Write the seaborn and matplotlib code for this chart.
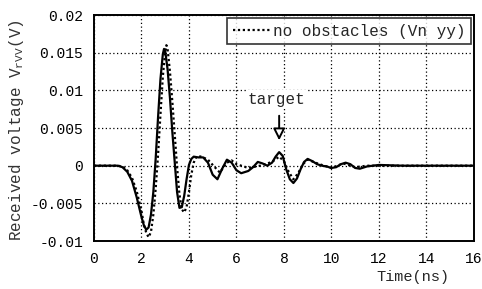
import matplotlib
matplotlib.use("Agg")
import matplotlib.pyplot as plt
from matplotlib.ticker import MultipleLocator
import seaborn as sns
import pandas as pd

# received waveform with target (solid)
t_target = [0, 0.5, 1.0, 1.2, 1.4, 1.6, 1.8, 2.0, 2.1, 2.2, 2.3, 2.4, 2.5, 2.6, 2.7, 2.8,
            2.9, 2.95, 3.0, 3.1, 3.2, 3.3, 3.4, 3.5, 3.6, 3.7, 3.8, 3.9, 4.0, 4.1, 4.2,
            4.4, 4.6, 4.8, 5.0, 5.2, 5.4, 5.6, 5.8, 6.0, 6.2, 6.5, 6.7, 6.9, 7.1, 7.3,
            7.5, 7.65, 7.8, 7.95, 8.1, 8.25, 8.4, 8.55, 8.7, 8.85, 9.0, 9.2, 9.4, 9.6,
            9.8, 10.0, 10.2, 10.4, 10.6, 10.8, 11.0, 11.2, 11.5, 12.0, 13.0, 14.0, 15.0, 16.0]
v_target = [0, 0, 0, -0.0002, -0.0008, -0.002, -0.0042, -0.0068, -0.0079, -0.0085, -0.0082,
            -0.0065, -0.0035, 0.001, 0.0065, 0.0115, 0.0148, 0.0155, 0.0152, 0.0128, 0.009,
            0.0045, 0.0005, -0.0035, -0.0056, -0.0055, -0.004, -0.0018, 0.0001, 0.0009,
            0.0012, 0.0011, 0.0011, 0.0004, -0.0012, -0.0018, -0.0004, 0.0008, 0.0004,
            -0.0006, -0.001, -0.0007, -0.0002, 0.0005, 0.0003, 0.0, 0.0004, 0.0012, 0.0018,
            0.0013, -0.0005, -0.0018, -0.0023, -0.0017, -0.0005, 0.0005, 0.0009, 0.0006,
            0.0002, 0.0, -0.0001, -0.0003, -0.0002, 0.0002, 0.0004, 0.0002, -0.0003,
            -0.0004, -0.0001, 0.0001, 0.0, 0.0, 0.0, 0.0]

# no obstacles (dotted)
t_free = [0, 0.5, 1.0, 1.2, 1.4, 1.6, 1.8, 2.0, 2.1, 2.2, 2.3, 2.4, 2.5, 2.6, 2.7, 2.8,
          2.9, 3.0, 3.05, 3.1, 3.2, 3.3, 3.4, 3.5, 3.6, 3.7, 3.8, 3.9, 4.0, 4.1, 4.2, 4.3,
          4.4, 4.6, 4.8, 5.0, 5.3, 5.6, 5.8, 6.0, 6.5, 7.0, 7.5, 7.8, 8.0, 8.2, 8.4, 8.6,
          8.8, 9.0, 9.5, 10.0, 10.5, 11.0, 11.5, 12.0, 13.0, 14.0, 15.0, 16.0]
v_free = [0, 0, 0, -0.0001, -0.0006, -0.0016, -0.0034, -0.006, -0.0078, -0.0089, -0.0095,
          -0.0088, -0.0065, -0.003, 0.0015, 0.0068, 0.0118, 0.0152, 0.016, 0.0155, 0.0125,
          0.0085, 0.0042, -0.0002, -0.0038, -0.0058, -0.0062, -0.0055, -0.0035, -0.0012,
          0.0004, 0.0011, 0.0013, 0.0011, 0.0008, 0.0001, -0.0009, 0.0004, 0.0007, 0.0002,
          -0.0003, 0.0, 0.0005, 0.0012, 0.0006, -0.0008, -0.0018, -0.001, 0.0002, 0.0008,
          0.0002, -0.0003, 0.0003, -0.0002, 0.0, 0.0, 0.0, 0.0, 0.0, 0.0]

df_target = pd.DataFrame({"t": t_target, "v": v_target})
df_free = pd.DataFrame({"t": t_free, "v": v_free})

sns.set_style("white")
plt.rcParams["font.family"] = ["Liberation Mono", "DejaVu Sans Mono"]
plt.rcParams["mathtext.fontset"] = "custom"
plt.rcParams["mathtext.rm"] = "Liberation Mono"

fig = plt.figure(figsize=(4.82, 2.89), dpi=100)
ax = fig.add_axes([0.195, 0.166, 0.788, 0.782])

sns.lineplot(data=df_free, x="t", y="v", ax=ax, color="black", linestyle=(0, (1, 1.2)),
             linewidth=1.6, label="no obstacles (Vn yy)")
sns.lineplot(data=df_target, x="t", y="v", ax=ax, color="black", linewidth=1.6,
             label="_nolegend_")

ax.set_xlim(0, 16)
ax.set_ylim(-0.01, 0.02)
ax.xaxis.set_minor_locator(MultipleLocator(0.5))
ax.yaxis.set_minor_locator(MultipleLocator(0.001))
ax.set_yticks([-0.01, -0.005, 0, 0.005, 0.01, 0.015, 0.02])
ax.set_yticklabels(["-0.01", "-0.005", "0", "0.005", "0.01", "0.015", "0.02"])
ax.set_xticks(range(0, 17, 2))
ax.set_xticklabels([str(i) for i in range(0, 17, 2)])
ax.tick_params(axis="both", which="major", direction="in", length=5, width=1.2,
               labelsize=10.5, colors="black", pad=8)
ax.tick_params(axis="both", which="minor", direction="in", length=3, width=1.0)
ax.grid(True, which="major", color="black", linestyle=(0, (1, 2)), linewidth=0.9)
for s in ax.spines.values():
    s.set_color("black")
    s.set_linewidth(1.4)

ax.set_xlabel("Time(ns)", fontsize=11)
ax.xaxis.set_label_coords(0.84, -0.13)
ax.set_ylabel(r"Received voltage V$_{\mathregular{rVV}}$(V)", fontsize=11.5, color="#333333")
ax.yaxis.set_label_coords(-0.18, 0.49)

leg = ax.legend(loc="upper right", fontsize=11.5, frameon=True, fancybox=False,
                handlelength=2.4, handletextpad=0.1, borderpad=0.35,
                borderaxespad=0.2)
leg.get_frame().set_edgecolor("black")
leg.get_frame().set_linewidth(1.2)

ax.annotate("", xy=(7.8, 0.003), xytext=(7.8, 0.007),
            arrowprops=dict(arrowstyle="-|>,head_width=0.35,head_length=0.7",
                        facecolor="white", edgecolor="black", lw=1.4))
ax.text(7.7, 0.0088, "target", fontsize=11.5, ha="center", va="center",
        bbox=dict(facecolor="white", edgecolor="none", pad=1))

fig.savefig("out.png", dpi=100)
